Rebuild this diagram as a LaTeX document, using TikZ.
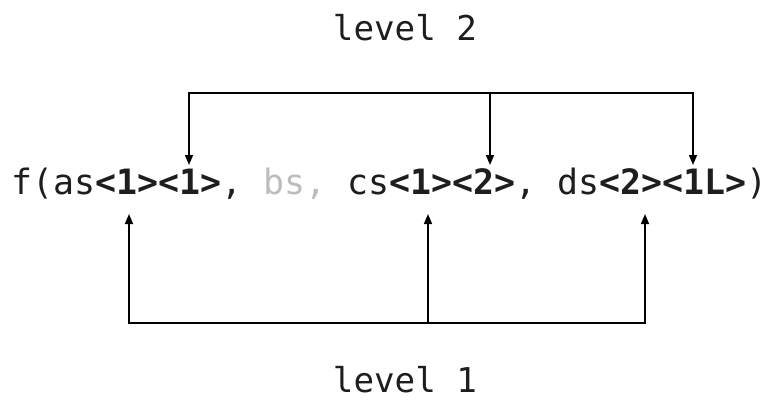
\documentclass[tikz,border=0pt]{standalone}
\usepackage{fontspec}
\setmonofont{DejaVu Sans Mono}
\usetikzlibrary{arrows.meta}
\definecolor{ink}{HTML}{1E1E1E}
\definecolor{faded}{HTML}{BDBDBD}
\begin{document}
\begin{tikzpicture}[x=1pt,y=-1pt,
  codetext/.style={inner sep=0pt, outer sep=0pt, anchor=base west, text=ink,
    font=\fontsize{34.9}{40}\selectfont\ttfamily},
  leveltext/.style={inner sep=0pt, outer sep=0pt, anchor=base, text=ink,
    font=\fontsize{34.2}{40}\selectfont\ttfamily},
  link/.style={draw=black, line width=1.6pt, line join=miter},
  tipend/.style={-{Triangle[length=10pt,width=8pt]}},
  tipboth/.style={{Triangle[length=10pt,width=8pt]}-{Triangle[length=10pt,width=8pt]}}
]
\useasboundingbox (0,0) rectangle (770,405);

% the call with its template arguments
\node[codetext] (expr) at (11.5,194)
  {f(as\textbf{<1><1>}, \textcolor{faded}{bs,} cs\textbf{<1><2>}, ds\textbf{<2><1L>})};

% level captions
\node[leveltext] (lv2) at (405,40) {level 2};
\node[leveltext] (lv1) at (405,392) {level 1};

% arrow targets above and below the arguments
\coordinate (t1) at (189,165);
\coordinate (t2) at (490,165);
\coordinate (t3) at (693,165);
\coordinate (b1) at (129,214);
\coordinate (b2) at (428,214);
\coordinate (b3) at (645,214);
\coordinate (topbar) at (0,93);
\coordinate (botbar) at (0,323);

% level 2 bracket
\draw[link,tipboth] (t1) -- (t1 |- topbar) -- (t3 |- topbar) -- (t3);
\draw[link,tipend] (t2 |- topbar) -- (t2);

% level 1 bracket
\draw[link,tipboth] (b1) -- (b1 |- botbar) -- (b3 |- botbar) -- (b3);
\draw[link,tipend] (b2 |- botbar) -- (b2);
\end{tikzpicture}
\end{document}
